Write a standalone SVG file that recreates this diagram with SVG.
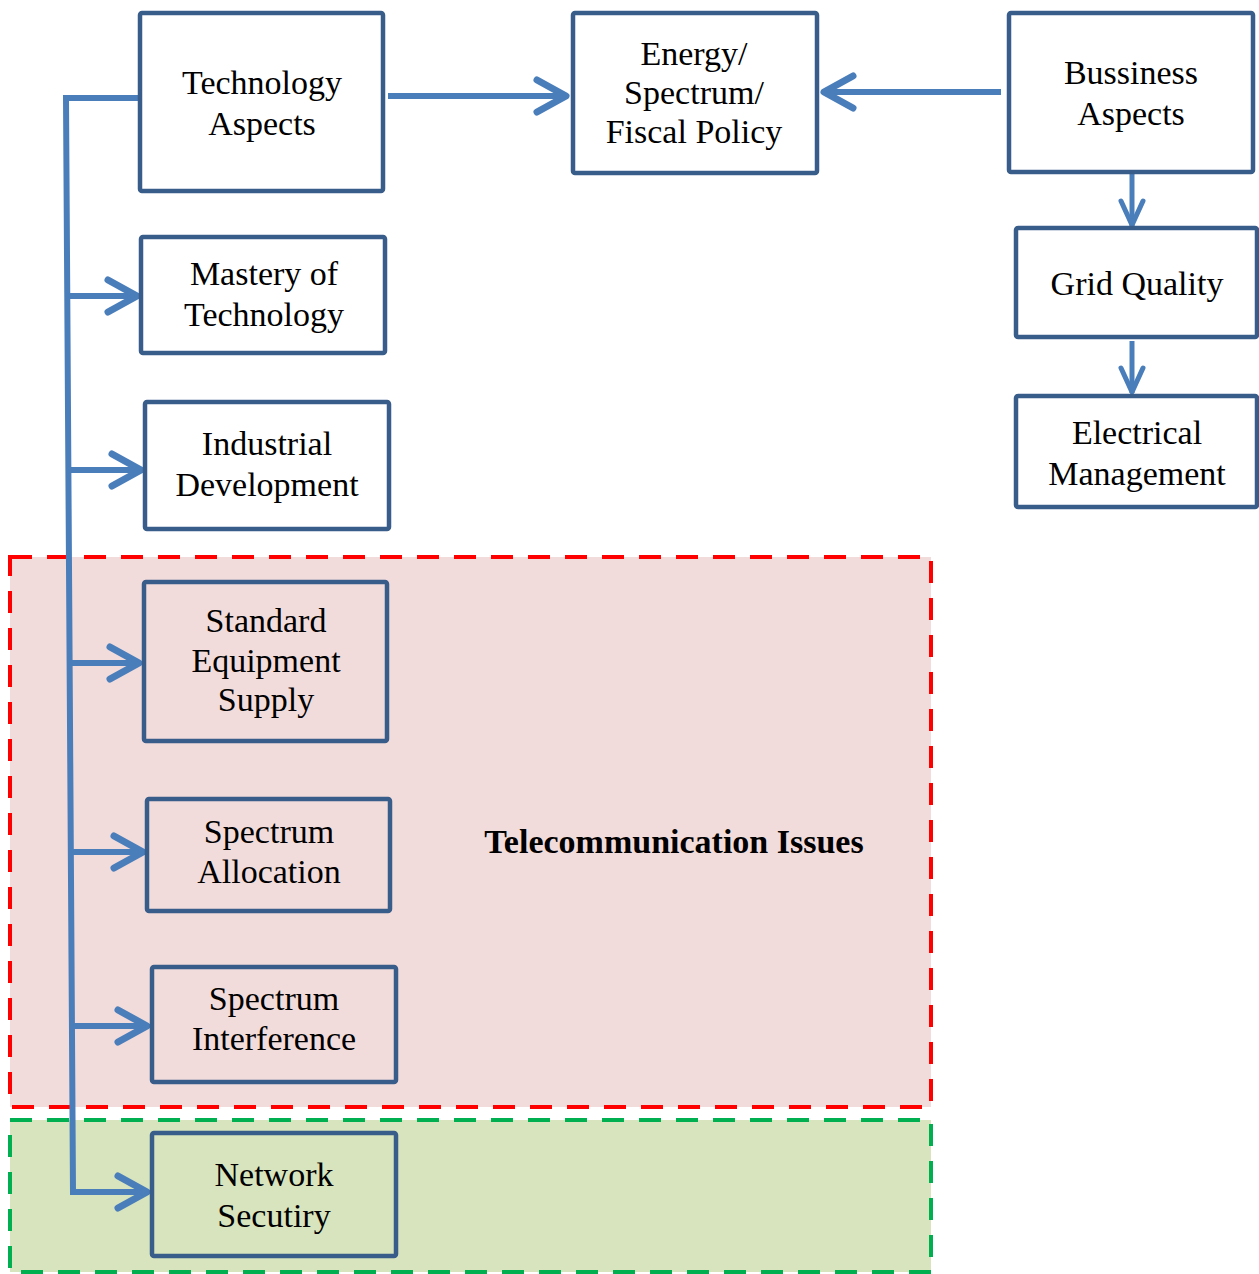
<svg xmlns="http://www.w3.org/2000/svg" width="1259" height="1274" viewBox="0 0 1259 1274">
<style>
.box{fill:none;stroke:#385D8A;stroke-width:4.5}
.t{font-family:"Liberation Serif","Times New Roman",serif;font-size:34px;fill:#000;text-anchor:middle}
.c{fill:none;stroke:#4A7EBB;stroke-width:6}
.cv{fill:none;stroke:#4A7EBB;stroke-width:5}
</style>
<defs>
<marker id="ah" markerUnits="userSpaceOnUse" viewBox="0 0 40 40" refX="35" refY="20" markerWidth="40" markerHeight="40" orient="auto" overflow="visible">
<path d="M5,4 L34,20 L5,36" fill="none" stroke="#4A7EBB" stroke-width="7" stroke-linecap="round" stroke-linejoin="round"/>
</marker>
<marker id="ahs" markerUnits="userSpaceOnUse" viewBox="0 0 40 40" refX="33" refY="20" markerWidth="40" markerHeight="40" orient="auto" overflow="visible">
<path d="M8,9 L32,20 L8,31" fill="none" stroke="#4A7EBB" stroke-width="5" stroke-linecap="round" stroke-linejoin="round"/>
</marker>
</defs>
<rect width="1259" height="1274" fill="#fff"/>
<g id="regions">
<rect id="telecom-region" x="10" y="557" width="921" height="550" fill="#F2DCDB" stroke="#FF0000" stroke-width="4" stroke-dasharray="22,15"/>
<rect id="security-region" x="10" y="1120" width="921" height="152" fill="#D7E4BD" stroke="#00B050" stroke-width="4" stroke-dasharray="22,15"/>
<text class="t" x="674" y="853" font-weight="bold">Telecommunication Issues</text>
</g>
<g id="connectors">
<polyline class="c" points="140,98 66,98 73,1192"/>
<line class="c" x1="67" y1="296" x2="138" y2="296" marker-end="url(#ah)"/>
<line class="c" x1="68" y1="470" x2="142" y2="470" marker-end="url(#ah)"/>
<line class="c" x1="70" y1="663" x2="140" y2="663" marker-end="url(#ah)"/>
<line class="c" x1="71" y1="852" x2="144" y2="852" marker-end="url(#ah)"/>
<line class="c" x1="72" y1="1026" x2="148" y2="1026" marker-end="url(#ah)"/>
<line class="c" x1="70" y1="1192" x2="148" y2="1192" marker-end="url(#ah)"/>
<line class="c" x1="388" y1="96" x2="567" y2="96" marker-end="url(#ah)"/>
<line class="c" x1="1001" y1="92" x2="823" y2="92" marker-end="url(#ah)"/>
<line class="cv" x1="1132" y1="174" x2="1132" y2="226" marker-end="url(#ahs)"/>
<line class="cv" x1="1132" y1="341" x2="1132" y2="393" marker-end="url(#ahs)"/>
</g>
<g id="technology-aspects">
<rect class="box" x="140" y="13" width="243" height="178" rx="2"/>
<text class="t" x="262" y="94">Technology</text>
<text class="t" x="262" y="135">Aspects</text>
</g>
<g id="energy-policy">
<rect class="box" x="573" y="13" width="244" height="160" rx="2"/>
<text class="t" x="694" y="65">Energy/</text>
<text class="t" x="694" y="104">Spectrum/</text>
<text class="t" x="694" y="143">Fiscal Policy</text>
</g>
<g id="bussiness-aspects">
<rect class="box" x="1009" y="13" width="244" height="159" rx="2"/>
<text class="t" x="1131" y="84">Bussiness</text>
<text class="t" x="1131" y="125">Aspects</text>
</g>
<g id="grid-quality">
<rect class="box" x="1016" y="228" width="241" height="109" rx="2"/>
<text class="t" x="1137" y="295">Grid Quality</text>
</g>
<g id="electrical-management">
<rect class="box" x="1016" y="396" width="241" height="111" rx="2"/>
<text class="t" x="1137" y="444">Electrical</text>
<text class="t" x="1137" y="485">Management</text>
</g>
<g id="mastery-of-technology">
<rect class="box" x="141" y="237" width="244" height="116" rx="2"/>
<text class="t" x="264" y="285">Mastery of</text>
<text class="t" x="264" y="326">Technology</text>
</g>
<g id="industrial-development">
<rect class="box" x="145" y="402" width="244" height="127" rx="2"/>
<text class="t" x="267" y="455">Industrial</text>
<text class="t" x="267" y="496">Development</text>
</g>
<g id="standard-equipment-supply">
<rect class="box" x="144" y="582" width="243" height="159" rx="2"/>
<text class="t" x="266" y="632">Standard</text>
<text class="t" x="266" y="672">Equipment</text>
<text class="t" x="266" y="711">Supply</text>
</g>
<g id="spectrum-allocation">
<rect class="box" x="147" y="799" width="243" height="112" rx="2"/>
<text class="t" x="269" y="843">Spectrum</text>
<text class="t" x="269" y="883">Allocation</text>
</g>
<g id="spectrum-interference">
<rect class="box" x="152" y="967" width="244" height="115" rx="2"/>
<text class="t" x="274" y="1010">Spectrum</text>
<text class="t" x="274" y="1050">Interference</text>
</g>
<g id="network-secutiry">
<rect class="box" x="152" y="1133" width="244" height="123" rx="2"/>
<text class="t" x="274" y="1186">Network</text>
<text class="t" x="274" y="1227">Secutiry</text>
</g>
</svg>
